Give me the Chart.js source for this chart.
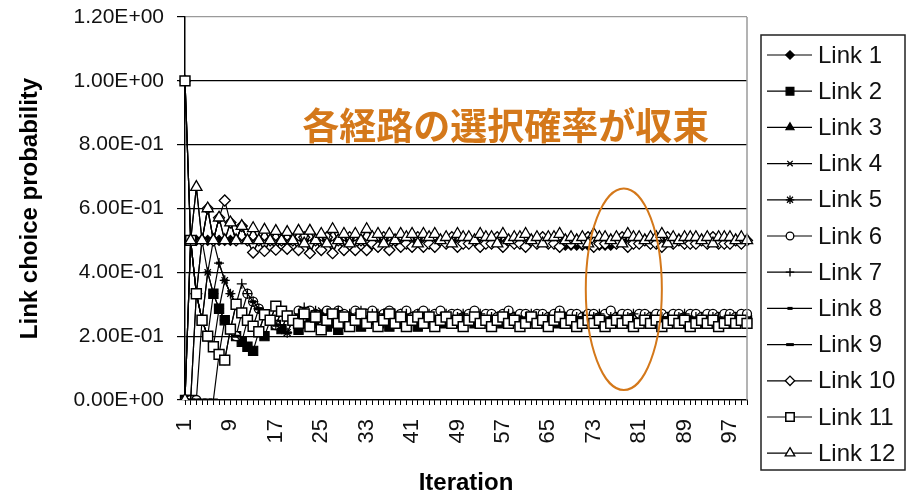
<!DOCTYPE html>
<html><head><meta charset="utf-8">
<script src="https://cdn.jsdelivr.net/npm/chart.js@4.4.1/dist/chart.umd.min.js"></script>
<style>html,body{margin:0;padding:0;background:#fff;}canvas{display:block;}</style>
</head><body>
<canvas id="c" width="907" height="498"></canvas>
<script>
// ---------- DATA ----------
const iterations = Array.from({length: 100}, (_, i) => String(i + 1));
const yTickValues = [0, 0.2, 0.4, 0.6, 0.8, 1.0, 1.2];
const linkNames = ['Link 1','Link 2','Link 3','Link 4','Link 5','Link 6','Link 7','Link 8','Link 9','Link 10','Link 11','Link 12'];

const link1 = [
 1,0.5,0.5,0.5,0.5,0.5,0.5,0.5,0.5,0.5,
 0.545,0.5,0.462,0.5,0.467,0.5,0.471,0.5,0.474,0.5,
 0.47,0.50,0.46,0.50,0.47,0.50,0.46,0.50,0.47,0.50,
 0.47,0.50,0.47,0.49,0.48,0.50,0.47,0.50,0.48,0.49,
 0.48,0.50,0.48,0.49,0.48,0.50,0.49,0.50,0.48,0.49,
 0.49,0.50,0.48,0.49,0.49,0.50,0.48,0.50,0.49,0.49,
 0.48,0.50,0.49,0.50,0.49,0.49,0.48,0.485,0.485,0.485,
 0.485,0.485,0.48,0.485,0.485,0.485,0.49,0.50,0.48,0.49,
 0.49,0.50,0.49,0.49,0.48,0.50,0.49,0.50,0.49,0.49,
 0.49,0.50,0.49,0.50,0.49,0.49,0.49,0.50,0.49,0.50];
const link2 = [
 0,0,0.333,0.25,0.2,0.333,0.286,0.25,0.222,0.2,
 0.182,0.167,0.154,0.214,0.2,0.25,0.235,0.222,0.263,0.25,
 0.22,0.25,0.27,0.24,0.26,0.23,0.25,0.22,0.24,0.26,
 0.25,0.23,0.25,0.27,0.24,0.26,0.23,0.25,0.24,0.26,
 0.25,0.23,0.25,0.26,0.24,0.26,0.24,0.25,0.24,0.26,
 0.25,0.24,0.25,0.26,0.24,0.25,0.24,0.25,0.26,0.25,
 0.24,0.25,0.26,0.24,0.25,0.24,0.26,0.25,0.24,0.25,
 0.26,0.24,0.25,0.24,0.26,0.25,0.24,0.25,0.25,0.24,
 0.25,0.26,0.24,0.25,0.25,0.24,0.26,0.25,0.24,0.25,
 0.25,0.24,0.25,0.26,0.24,0.25,0.25,0.24,0.25,0.25];
const link3 = [
 0,0.5,0.667,0.5,0.6,0.5,0.571,0.5,0.556,0.5,
 0.545,0.5,0.538,0.5,0.533,0.5,0.529,0.5,0.526,0.5,
 0.53,0.49,0.53,0.50,0.52,0.49,0.535,0.50,0.52,0.49,
 0.52,0.50,0.535,0.51,0.52,0.49,0.52,0.50,0.52,0.51,
 0.52,0.49,0.52,0.51,0.52,0.50,0.51,0.49,0.52,0.51,
 0.51,0.50,0.52,0.51,0.51,0.49,0.52,0.50,0.51,0.51,
 0.52,0.50,0.51,0.49,0.51,0.51,0.52,0.50,0.51,0.50,
 0.51,0.49,0.52,0.51,0.51,0.50,0.51,0.49,0.52,0.51,
 0.51,0.50,0.51,0.51,0.52,0.49,0.51,0.50,0.51,0.51,
 0.51,0.50,0.51,0.49,0.51,0.51,0.51,0.50,0.51,0.50];
const link4 = [
 0,0.5,0.333,0.25,0.4,0.333,0.286,0.375,0.333,0.3,
 0.273,0.25,0.231,0.214,0.267,0.25,0.294,0.278,0.263,0.25,
 0.27,0.25,0.24,0.26,0.28,0.25,0.24,0.26,0.27,0.25,
 0.24,0.26,0.27,0.25,0.24,0.26,0.27,0.25,0.24,0.26,
 0.26,0.25,0.24,0.26,0.26,0.25,0.24,0.25,0.26,0.25,
 0.24,0.25,0.26,0.25,0.24,0.25,0.26,0.25,0.25,0.24,
 0.25,0.26,0.25,0.24,0.25,0.26,0.25,0.25,0.24,0.25,
 0.26,0.25,0.25,0.24,0.25,0.26,0.25,0.24,0.25,0.26,
 0.25,0.25,0.24,0.25,0.26,0.25,0.25,0.24,0.25,0.26,
 0.25,0.24,0.25,0.26,0.25,0.25,0.24,0.25,0.26,0.25];
const link5 = [
 1,0.5,0.333,0.25,0.2,0.167,0.286,0.25,0.222,0.3,
 0.273,0.25,0.308,0.286,0.267,0.25,0.235,0.222,0.211,0.25,
 0.26,0.24,0.26,0.25,0.23,0.26,0.25,0.27,0.24,0.26,
 0.25,0.24,0.26,0.25,0.27,0.24,0.26,0.25,0.27,0.24,
 0.25,0.26,0.24,0.25,0.26,0.24,0.26,0.25,0.27,0.24,
 0.26,0.25,0.24,0.26,0.25,0.24,0.25,0.26,0.25,0.24,
 0.26,0.25,0.24,0.25,0.26,0.25,0.24,0.26,0.25,0.24,
 0.25,0.26,0.25,0.24,0.25,0.26,0.25,0.25,0.24,0.25,
 0.26,0.25,0.25,0.24,0.25,0.26,0.25,0.25,0.24,0.25,
 0.26,0.25,0.25,0.24,0.25,0.26,0.25,0.25,0.25,0.24];
const link6 = [
 0,0,0,0.25,0.2,0.167,0.143,0.125,0.222,0.2,
 0.273,0.333,0.308,0.286,0.267,0.25,0.235,0.278,0.263,0.25,
 0.28,0.26,0.28,0.27,0.25,0.28,0.26,0.28,0.27,0.26,
 0.28,0.26,0.27,0.28,0.26,0.27,0.28,0.26,0.27,0.28,
 0.26,0.27,0.28,0.26,0.27,0.28,0.26,0.27,0.27,0.26,
 0.27,0.28,0.26,0.27,0.27,0.26,0.27,0.28,0.26,0.27,
 0.27,0.26,0.27,0.27,0.26,0.27,0.28,0.26,0.27,0.27,
 0.26,0.27,0.27,0.26,0.27,0.28,0.26,0.27,0.27,0.26,
 0.27,0.27,0.26,0.27,0.27,0.26,0.27,0.27,0.26,0.27,
 0.27,0.26,0.27,0.27,0.26,0.27,0.27,0.26,0.27,0.27];
const link7 = [
 0,0,0.333,0.5,0.4,0.333,0.429,0.375,0.333,0.3,
 0.364,0.333,0.308,0.286,0.267,0.25,0.235,0.278,0.263,0.25,
 0.27,0.29,0.26,0.28,0.25,0.27,0.26,0.28,0.25,0.27,
 0.26,0.28,0.25,0.27,0.26,0.27,0.25,0.27,0.26,0.27,
 0.25,0.27,0.26,0.27,0.25,0.26,0.27,0.25,0.26,0.27,
 0.25,0.26,0.27,0.25,0.26,0.26,0.25,0.27,0.26,0.25,
 0.26,0.27,0.25,0.26,0.26,0.25,0.27,0.26,0.25,0.26,
 0.26,0.25,0.26,0.27,0.25,0.26,0.26,0.25,0.26,0.27,
 0.25,0.26,0.26,0.25,0.26,0.26,0.25,0.26,0.27,0.25,
 0.26,0.26,0.25,0.26,0.26,0.25,0.26,0.26,0.25,0.26];
const link8 = [
 0,0.5,0.333,0.25,0.4,0.5,0.429,0.375,0.333,0.3,
 0.273,0.25,0.308,0.286,0.267,0.25,0.235,0.222,0.263,0.25,
 0.25,0.23,0.26,0.24,0.27,0.25,0.23,0.26,0.24,0.25,
 0.26,0.24,0.23,0.25,0.26,0.24,0.25,0.26,0.24,0.25,
 0.24,0.25,0.26,0.24,0.25,0.24,0.26,0.25,0.24,0.25,
 0.25,0.24,0.25,0.26,0.24,0.25,0.25,0.24,0.25,0.26,
 0.25,0.24,0.25,0.25,0.26,0.24,0.25,0.25,0.24,0.25,
 0.25,0.26,0.24,0.25,0.25,0.24,0.25,0.26,0.25,0.24,
 0.25,0.25,0.26,0.24,0.25,0.25,0.24,0.25,0.25,0.26,
 0.24,0.25,0.25,0.24,0.25,0.25,0.26,0.25,0.24,0.25];
const link9 = [
 0,0,0,0,0,0,0.143,0.25,0.222,0.2,
 0.182,0.25,0.231,0.286,0.267,0.25,0.235,0.222,0.211,0.25,
 0.24,0.26,0.25,0.23,0.25,0.26,0.24,0.23,0.25,0.24,
 0.25,0.23,0.25,0.24,0.26,0.24,0.23,0.25,0.24,0.25,
 0.24,0.25,0.23,0.25,0.24,0.25,0.24,0.23,0.25,0.24,
 0.25,0.24,0.25,0.24,0.23,0.25,0.24,0.25,0.24,0.25,
 0.24,0.25,0.24,0.25,0.24,0.25,0.23,0.25,0.24,0.25,
 0.24,0.25,0.24,0.25,0.24,0.25,0.24,0.25,0.24,0.25,
 0.24,0.25,0.25,0.24,0.25,0.24,0.25,0.24,0.25,0.24,
 0.25,0.24,0.25,0.24,0.25,0.25,0.24,0.25,0.24,0.25];
const link10 = [
 1,0.5,0.333,0.5,0.6,0.5,0.571,0.625,0.556,0.5,
 0.545,0.5,0.462,0.5,0.467,0.5,0.471,0.5,0.474,0.5,
 0.47,0.51,0.46,0.50,0.47,0.51,0.46,0.50,0.47,0.51,
 0.47,0.50,0.47,0.49,0.48,0.51,0.47,0.50,0.48,0.49,
 0.48,0.51,0.48,0.49,0.48,0.50,0.49,0.51,0.48,0.49,
 0.49,0.50,0.48,0.49,0.49,0.51,0.48,0.50,0.49,0.49,
 0.48,0.50,0.49,0.51,0.49,0.49,0.48,0.50,0.49,0.50,
 0.49,0.51,0.48,0.49,0.49,0.50,0.49,0.51,0.48,0.49,
 0.49,0.50,0.49,0.49,0.48,0.51,0.49,0.50,0.49,0.49,
 0.49,0.50,0.49,0.51,0.49,0.49,0.49,0.50,0.49,0.50];
const link11 = [
 1,0.5,0.333,0.25,0.2,0.167,0.143,0.125,0.222,0.3,
 0.273,0.25,0.231,0.214,0.267,0.25,0.294,0.278,0.263,0.25,
 0.24,0.27,0.23,0.26,0.22,0.25,0.27,0.24,0.26,0.23,
 0.25,0.27,0.24,0.26,0.23,0.25,0.27,0.24,0.26,0.23,
 0.25,0.26,0.24,0.26,0.23,0.25,0.26,0.24,0.25,0.23,
 0.25,0.26,0.24,0.25,0.23,0.25,0.26,0.24,0.25,0.23,
 0.24,0.26,0.24,0.25,0.23,0.25,0.26,0.24,0.25,0.23,
 0.24,0.25,0.24,0.25,0.23,0.24,0.25,0.24,0.25,0.23,
 0.24,0.25,0.24,0.25,0.23,0.24,0.25,0.24,0.25,0.23,
 0.24,0.25,0.24,0.25,0.23,0.24,0.25,0.24,0.25,0.24];
const link12 = [
 0,0.5,0.667,0.5,0.6,0.5,0.571,0.5,0.556,0.5,
 0.545,0.5,0.538,0.5,0.533,0.5,0.529,0.5,0.526,0.5,
 0.53,0.49,0.53,0.50,0.52,0.49,0.535,0.50,0.52,0.49,
 0.52,0.50,0.535,0.51,0.52,0.49,0.52,0.50,0.52,0.51,
 0.52,0.49,0.52,0.51,0.52,0.50,0.51,0.49,0.52,0.51,
 0.51,0.50,0.52,0.51,0.51,0.49,0.52,0.50,0.51,0.51,
 0.52,0.50,0.51,0.49,0.51,0.51,0.52,0.50,0.51,0.50,
 0.51,0.49,0.52,0.51,0.51,0.50,0.51,0.49,0.52,0.51,
 0.51,0.50,0.51,0.51,0.52,0.49,0.51,0.50,0.51,0.51,
 0.51,0.50,0.51,0.49,0.51,0.51,0.51,0.50,0.51,0.50];
const linkValues = [link1,link2,link3,link4,link5,link6,link7,link8,link9,link10,link11,link12];

const annotationText = '各経路の選択確率が収束';

// ---------- STYLE ----------
const FONT = "'Liberation Sans', Arial, Helvetica, sans-serif";
const ORANGE = '#D4781A';
const markerStyles = [
  {ps:'rectRot',  r:5,   fill:'#000', bw:1.2},
  {ps:'rect',     r:6.5, fill:'#000', bw:1.2},
  {ps:'triangle', r:5.5, fill:'#000', bw:1.2},
  {ps:'crossRot', r:4.5, fill:'#000', bw:1.3},
  {ps:'star',     r:5,   fill:'#000', bw:1.3},
  {ps:'circle',   r:4.5, fill:'#fff', bw:1.3},
  {ps:'cross',    r:5,   fill:'#000', bw:1.3},
  {ps:'line',     r:3,   fill:'#000', bw:3},
  {ps:'line',     r:4.5, fill:'#000', bw:3},
  {ps:'rectRot',  r:5.5, fill:'#fff', bw:1.3},
  {ps:'rect',     r:7,   fill:'#fff', bw:1.5},
  {ps:'triangle', r:6.5, fill:'#fff', bw:1.3}
];

function sci(v){
  if (Math.abs(v) < 1e-12) return '0.00E+00';
  let e = Math.floor(Math.log10(Math.abs(v)) + 1e-9);
  let m = v / Math.pow(10, e);
  let s = e < 0 ? '-' : '+';
  let ae = Math.abs(e);
  return m.toFixed(2) + 'E' + s + (ae < 10 ? '0' + ae : ae);
}

const datasets = linkValues.map((vals, i) => ({
  label: linkNames[i],
  data: vals,
  borderColor: '#000',
  borderWidth: 1.2,
  pointStyle: markerStyles[i].ps,
  pointRadius: markerStyles[i].r,
  pointBackgroundColor: markerStyles[i].fill,
  pointBorderColor: '#000',
  pointBorderWidth: markerStyles[i].bw,
  tension: 0,
  fill: false,
  order: 11 - i
}));

const overlayPlugin = {
  id: 'overlay',
  afterDraw(chart) {
    const ctx = chart.ctx;
    const ca = chart.chartArea;
    const xs = chart.scales.x, ys = chart.scales.y;
    ctx.save();
    ctx.strokeStyle = '#9a9a9a';
    ctx.lineWidth = 1.5;
    ctx.beginPath();
    ctx.moveTo(ca.right, ca.top);
    ctx.lineTo(ca.right, ca.bottom);
    ctx.stroke();

    const cx = xs.getPixelForValue(77.3), cy = ys.getPixelForValue(0.347);
    const rx = xs.getPixelForValue(6.7) - xs.getPixelForValue(0);
    const ry = ys.getPixelForValue(0) - ys.getPixelForValue(0.316);
    ctx.strokeStyle = ORANGE;
    ctx.lineWidth = 2;
    ctx.beginPath();
    ctx.ellipse(cx, cy, rx, ry, 0, 0, Math.PI * 2);
    ctx.stroke();

    ctx.fillStyle = ORANGE;
    ctx.font = "bold 37px 'Noto Sans CJK JP', sans-serif";
    ctx.textAlign = 'center';
    ctx.textBaseline = 'middle';
    ctx.fillText(annotationText, xs.getPixelForValue(56.5), ys.getPixelForValue(0.86));

    const lx = 761, ly = 35, lw = 144, lh = 435;
    ctx.strokeStyle = '#222';
    ctx.lineWidth = 1.5;
    ctx.strokeRect(lx, ly, lw, lh);
    ctx.font = '24px ' + FONT;
    ctx.textAlign = 'left';
    ctx.textBaseline = 'middle';
    for (let i = 0; i < linkNames.length; i++) {
      const y = 55 + i * 36.2;
      ctx.strokeStyle = '#000';
      ctx.lineWidth = 1.2;
      ctx.beginPath();
      ctx.moveTo(767, y); ctx.lineTo(812, y); ctx.stroke();
      const ms = markerStyles[i];
      ctx.fillStyle = ms.fill;
      ctx.strokeStyle = '#000';
      ctx.lineWidth = ms.bw;
      Chart.helpers.drawPoint(ctx, {pointStyle: ms.ps, rotation: 0, radius: ms.r * 0.85, borderWidth: ms.bw}, 790, y);
      ctx.fillStyle = '#111';
      ctx.fillText(linkNames[i], 818, y + 1);
    }
    ctx.restore();
  }
};

new Chart(document.getElementById('c'), {
  type: 'line',
  data: { labels: iterations, datasets },
  options: {
    responsive: false,
    animation: false,
    devicePixelRatio: 1,
    events: [],
    layout: { padding: { top: 17, right: 160, bottom: 0, left: 0 } },
    plugins: { legend: { display: false }, tooltip: { enabled: false } },
    scales: {
      x: {
        type: 'category',
        offset: false,
        afterFit(scale) { scale.height = 98; scale.paddingLeft = 0; scale.paddingRight = 0; scale.paddingTop = 0; scale.paddingBottom = 0; },
        grid: { drawOnChartArea: false, drawTicks: true, tickLength: 5, color: '#000', lineWidth: 1 },
        border: { color: '#000', width: 1.2 },
        ticks: {
          autoSkip: false, minRotation: 90, maxRotation: 90, padding: 14,
          color: '#111', font: { family: FONT, size: 22 },
          callback(val, idx) { return idx % 8 === 0 ? iterations[idx] : ''; }
        },
        title: { display: true, text: 'Iteration', color: '#000', font: { family: FONT, size: 24, weight: 'bold' }, padding: { top: 0, bottom: 0 } }
      },
      y: {
        min: 0, max: 1.2,
        afterFit(scale) { scale.width = 185; scale.paddingTop = 0; scale.paddingBottom = 0; scale.paddingLeft = 0; scale.paddingRight = 0; },
        afterBuildTicks(scale) { scale.ticks = yTickValues.map(v => ({ value: v })); },
        grid: {
          color: ctx => (ctx.tick && ctx.tick.value >= 1.19) ? '#9a9a9a' : '#000',
          tickColor: '#000', lineWidth: 1.2, tickLength: 8
        },
        border: { color: '#000', width: 1.5 },
        ticks: { padding: 13, color: '#111', font: { family: FONT, size: 21 }, callback: v => sci(v) },
        title: { display: true, text: 'Link choice probability', color: '#000', font: { family: FONT, size: 24, weight: 'bold' }, padding: { top: 16, bottom: 0 } }
      }
    }
  },
  plugins: [overlayPlugin]
});
</script>
</body></html>
